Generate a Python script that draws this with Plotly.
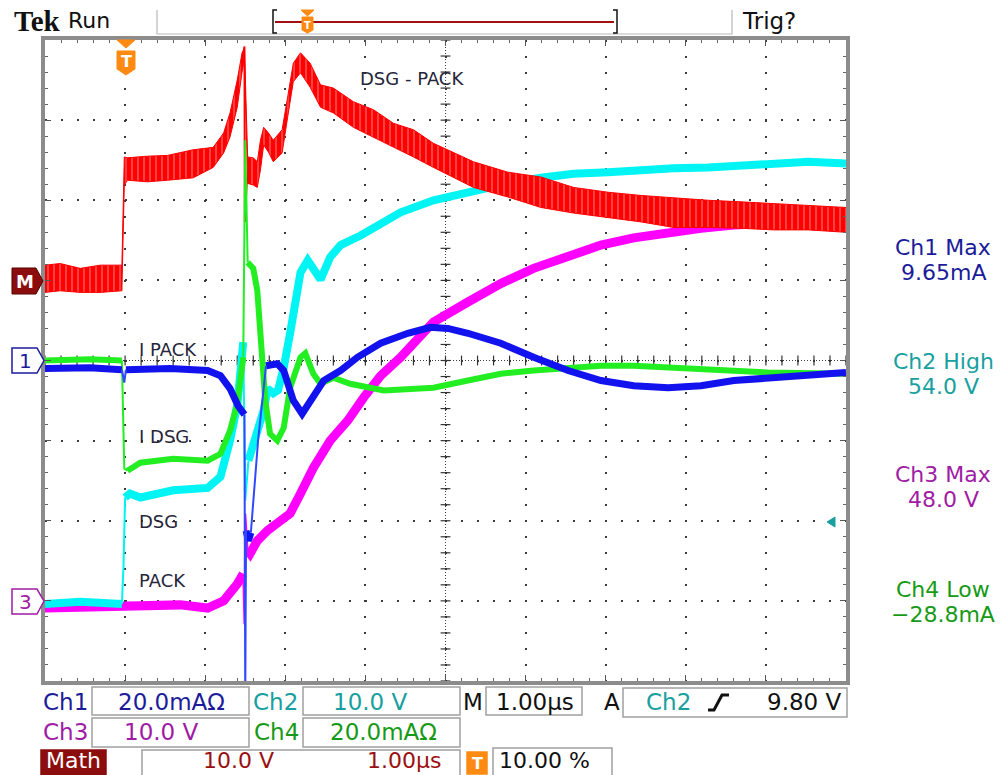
import numpy as np
import plotly.graph_objects as go

# ---------------------------------------------------------------------------
# Acquisition settings
# ---------------------------------------------------------------------------
T_RANGE = [-1.0, 9.0]      # 1.00 us/div, trigger at 10 %
Y_RANGE = [-4.0, 4.0]      # 8 vertical divisions

CH1_SCALE, CH1_POS = 20.0, 0.0     # I PACK, mA/div
CH2_SCALE, CH2_POS = 10.0, -3.0    # DSG, V/div
CH3_SCALE, CH3_POS = 10.0, -3.0    # PACK, V/div
CH4_SCALE, CH4_POS = 20.0, 0.0     # I DSG, mA/div
MATH_SCALE, MATH_POS = 10.0, 1.0   # DSG - PACK, V/div

# ---------------------------------------------------------------------------
# Waveforms (time in us; None breaks a line where a fast edge is drawn thin)
# ---------------------------------------------------------------------------
# Ch2 - DSG (V)
ch2_t = [-1.0, -0.56, -0.04, None, 0.0, 0.06, 0.19, 0.6, 1.03, 1.19, 1.31, 1.4, 1.475, None,
         1.54, 1.65, 1.73, 1.78, 1.85, 1.91, 1.98, 2.06, 2.13, 2.19, 2.28, 2.35, 2.44, 2.56,
         2.69, 2.94, 3.19, 3.44, 3.85, 4.28, 4.78, 5.19, 5.6, 6.03, 6.44, 6.85, 7.28, 7.69,
         8.1, 8.53, 9.0]
ch2_v = [-0.4, -0.1, -0.4, None, 12.9, 13.4, 12.9, 13.8, 14.1, 15.5, 20.0, 24.4, 32.3, None,
         17.5, 20.9, 23.8, 26.5, 25.9, 26.3, 29.1, 33.4, 37.5, 41.0, 42.5, 41.3, 40.1, 42.9,
         44.4, 45.6, 47.1, 48.5, 50.0, 51.0, 52.1, 52.8, 53.3, 53.5, 53.8, 54.0, 54.1, 54.4,
         54.6, 54.8, 54.6]
ch2_edge_t = [-0.04, -0.02, 0.0, None, 1.475, 1.5, 1.54]
ch2_edge_v = [-0.4, 4.4, 12.9, None, 32.3, 12.5, 17.5]

# Ch3 - PACK (V)
ch3_t = [-1.0, -0.44, -0.04, 0.19, 0.69, 1.03, 1.23, 1.4, 1.475, None,
         1.53, 1.56, 1.65, 1.78, 1.94, 2.06, 2.19, 2.35, 2.56, 2.78, 2.98, 3.19, 3.44, 3.85,
         4.28, 4.69, 5.1, 5.53, 5.94, 6.35, 6.78, 7.19, 7.6, 8.03, 8.44, 9.0]
ch3_v = [-0.9, -0.8, -0.9, -0.6, -0.5, -0.9, 0.0, 2.1, 3.4, None,
         6.3, 5.9, 7.5, 8.8, 10.0, 10.9, 13.4, 16.6, 20.0, 22.5, 25.4, 28.1, 30.4, 34.8,
         37.3, 39.6, 41.5, 43.1, 44.4, 45.3, 46.0, 46.5, 46.9, 47.1, 47.4, 47.6]
ch3_edge_t = [1.475, 1.49, 1.5, 1.53]
ch3_edge_v = [3.4, -2.9, 10.9, 6.3]

# Ch4 - I DSG (mA)
ch4_t = [-1.0, -0.44, -0.04, None, 0.03, 0.19, 0.6, 1.03, 1.19, 1.31, 1.4, 1.475, None,
         1.53, 1.6, 1.65, 1.69, 1.71, 1.75, 1.81, 1.9, 1.98, 2.06, 2.19, 2.25, 2.35, 2.44,
         2.6, 2.81, 3.23, 3.85, 4.28, 4.69, 5.1, 5.53, 5.94, 6.35, 6.78, 7.19, 7.6, 8.03, 9.0]
ch4_v = [0.0, 0.3, 0.0, None, -27.5, -25.5, -24.5, -25.0, -23.3, -17.5, -10.8, 0.8, None,
         24.5, 23.0, 17.5, 7.5, 2.5, -10.0, -18.3, -20.0, -16.8, -6.8, 0.8, 1.8, -3.3, -5.8,
         -4.3, -5.8, -7.5, -6.8, -5.0, -3.3, -2.5, -1.8, -1.3, -1.3, -1.8, -2.0, -2.5, -3.0, -3.3]
ch4_edge_t = [-0.04, -0.01, 0.03, None, 1.475, 1.5, 1.53]
ch4_edge_v = [0.0, -27.0, -27.5, None, 0.8, 55.0, 24.5]

# Ch1 - I PACK (mA)
ch1_t = [-1.0, -0.44, -0.04, None, 0.01, 0.56, 1.03, 1.19, 1.31, 1.41, 1.49, None,
         1.51, 1.54, 1.57, None,
         1.76, 1.9, 1.98, 2.1, 2.21, 2.35, 2.48, 2.69, 2.9, 3.19, 3.53, 3.81, 4.03, 4.28,
         4.69, 5.1, 5.53, 5.94, 6.35, 6.78, 7.19, 7.6, 8.03, 8.44, 9.0]
ch1_v = [-2.0, -1.8, -2.3, None, -2.3, -2.0, -2.5, -3.8, -7.0, -11.3, -13.5, None,
         -42.5, -45.0, -43.0, None,
         -1.3, -0.8, -2.5, -10.0, -13.3, -9.3, -5.0, -2.5, 0.8, 4.3, 6.8, 8.3, 8.0, 6.8,
         4.3, 0.8, -2.5, -5.0, -6.3, -6.8, -6.3, -5.0, -4.3, -3.5, -3.0]
ch1_edge_t = [-0.04, -0.01, 0.01, None, 1.49, 1.5, 1.51, None, 1.57, 1.66, 1.76]
ch1_edge_v = [-2.3, -5.5, -2.3, None, -13.5, -85.0, -42.5, None, -43.0, -20.0, -1.3]

# Math - DSG minus PACK (V): upper / lower envelope of the noisy band
math_t = [-1.0, -0.81, -0.56, -0.31, -0.04, -0.01, 0.03, 0.28, 0.53, 0.85, 1.1, 1.23, 1.31,
          1.4, 1.46, 1.49, 1.53, 1.6, 1.65, 1.69, 1.73, 1.79, 1.85, 1.96, 2.03, 2.1, 2.19,
          2.31, 2.44, 2.6, 2.85, 3.1, 3.35, 3.6, 3.85, 4.1, 4.35, 4.78, 5.19, 5.6, 6.03,
          6.44, 6.85, 7.28, 7.69, 8.1, 8.53, 9.0]
math_hi = [1.9, 2.1, 1.5, 1.9, 1.9, 15.4, 15.3, 15.5, 15.6, 16.3, 16.6, 18.4, 20.9, 25.0,
           28.4, 29.0, 15.4, 15.3, 14.8, 17.5, 19.1, 18.4, 17.5, 18.8, 22.9, 27.1, 28.4,
           27.1, 24.4, 24.0, 22.3, 21.3, 19.6, 18.8, 17.1, 16.0, 14.8, 13.5, 12.9, 11.6,
           11.0, 10.6, 10.3, 10.0, 9.8, 9.6, 9.4, 9.1]
math_lo = [-1.5, -1.3, -1.5, -1.5, -1.3, 11.9, 12.5, 12.3, 12.5, 12.8, 14.1, 15.9, 17.9,
           21.6, 26.0, 27.5, 12.1, 11.9, 11.6, 13.8, 16.9, 16.0, 14.8, 15.9, 20.4, 24.8,
           25.9, 24.1, 21.6, 20.9, 19.1, 17.9, 16.6, 15.4, 14.1, 12.9, 11.6, 10.4, 9.1,
           8.4, 7.8, 7.3, 6.6, 6.6, 6.5, 6.3, 6.3, 6.0]
math_edge_t = [1.48, 1.49, 1.495, 1.52]
math_edge_v = [28.5, 29.2, 7.3, 12.5]

# Readouts
measurements = [("Ch1 Max", "9.65mA"), ("Ch2 High", "54.0 V"),
                ("Ch3 Max", "48.0 V"), ("Ch4 Low", "\u221228.8mA")]
trace_labels = ["DSG - PACK", "I PACK", "I DSG", "DSG", "PACK"]

# ---------------------------------------------------------------------------
# Colours
# ---------------------------------------------------------------------------
C_RED, C_CYAN, C_MAG, C_GRN, C_BLU = "#ff0000", "#00f4f4", "#ff00ff", "#22ee22", "#1212ee"
T_CH1, T_CH2, T_CH3, T_CH4, T_MATH = "#1c1c9a", "#18a0a0", "#a01ca4", "#169a16", "#9a1010"
ORANGE = "#ff8a12"
FONT = "DejaVu Sans"

# Plot area in page pixels
L, R, T, B = 45, 846, 40, 681


def to_div(vals, scale, pos):
    return [None if v is None else pos + v / scale for v in vals]


def X(px):
    return (px - L) / (R - L)


def Y(py):
    return (B - py) / (B - T)


fig = go.Figure()

# Centre graticule tick marks
xt = np.round(np.arange(T_RANGE[0], T_RANGE[1] + 1e-6, 0.2), 3)
yt = np.round(np.arange(Y_RANGE[0], Y_RANGE[1] + 1e-6, 0.2), 3)
fig.add_trace(go.Scatter(x=xt, y=np.zeros_like(xt), mode="markers", hoverinfo="skip",
                         marker=dict(symbol="line-ns", size=7, color="#333",
                                     line=dict(width=1.2, color="#333"))))
fig.add_trace(go.Scatter(x=np.full_like(yt, 4.0), y=yt, mode="markers", hoverinfo="skip",
                         marker=dict(symbol="line-ew", size=7, color="#333",
                                     line=dict(width=1.2, color="#333"))))


def add_wave(t, v, scale, pos, color, width):
    fig.add_trace(go.Scatter(x=t, y=to_div(v, scale, pos), mode="lines", hoverinfo="skip",
                             connectgaps=False,
                             line=dict(color=color, width=width, shape="linear")))


add_wave(ch3_t, ch3_v, CH3_SCALE, CH3_POS, C_MAG, 9)
add_wave(ch3_edge_t, ch3_edge_v, CH3_SCALE, CH3_POS, C_MAG, 2)
add_wave(ch2_t, ch2_v, CH2_SCALE, CH2_POS, C_CYAN, 8)
add_wave(ch2_edge_t, ch2_edge_v, CH2_SCALE, CH2_POS, C_CYAN, 2)

# Math band
fig.add_trace(go.Scatter(x=math_t, y=to_div(math_lo, MATH_SCALE, MATH_POS), mode="lines",
                         hoverinfo="skip", line=dict(color=C_RED, width=1)))
fig.add_trace(go.Scatter(x=math_t, y=to_div(math_hi, MATH_SCALE, MATH_POS), mode="lines",
                         hoverinfo="skip", line=dict(color=C_RED, width=1),
                         fill="tonexty", fillcolor=C_RED,
                         fillpattern=dict(shape="|", fgcolor="#ffb4b4", bgcolor=C_RED,
                                          size=6, solidity=0.12, fillmode="replace")))
add_wave(math_edge_t, math_edge_v, MATH_SCALE, MATH_POS, C_RED, 2)

add_wave(ch4_t, ch4_v, CH4_SCALE, CH4_POS, C_GRN, 6)
add_wave(ch4_edge_t, ch4_edge_v, CH4_SCALE, CH4_POS, C_GRN, 2)
add_wave(ch1_t, ch1_v, CH1_SCALE, CH1_POS, C_BLU, 7)
add_wave(ch1_edge_t, ch1_edge_v, CH1_SCALE, CH1_POS, "#3048ff", 2)

# ---------------------------------------------------------------------------
# Axes / graticule
# ---------------------------------------------------------------------------
axis_common = dict(showgrid=True, gridcolor="#3a3a3a", gridwidth=2, griddash="2px,14px",
                   zeroline=False, showline=True, linecolor="#8c8c8c", linewidth=4,
                   mirror="ticks", ticks="inside", ticklen=6, tickwidth=1.2, tickcolor="#555",
                   showticklabels=False, fixedrange=True,
                   minor=dict(ticks="inside", ticklen=3, tickwidth=1, tickcolor="#666",
                              dtick=0.2, showgrid=False))
fig.update_xaxes(range=T_RANGE, dtick=1, tick0=-1, **axis_common)
fig.update_yaxes(range=Y_RANGE, dtick=1, tick0=-4, **axis_common)

shapes = [
    dict(type="line", x0=T_RANGE[0], x1=T_RANGE[1], y0=0, y1=0, layer="between",
         line=dict(color="#3c3c3c", width=1, dash="1px,2px")),
    dict(type="line", x0=4, x1=4, y0=Y_RANGE[0], y1=Y_RANGE[1], layer="between",
         line=dict(color="#3c3c3c", width=1, dash="1px,2px")),
]


def prect(x0, y0, x1, y1, line="#a0a0a0", fill="white", w=1.5):
    return dict(type="rect", xref="paper", yref="paper", x0=X(x0), x1=X(x1),
                y0=Y(y1), y1=Y(y0), line=dict(color=line, width=w), fillcolor=fill,
                layer="above")


def ppath(points, line, fill=None, w=1.5, closed=True):
    d = "M " + " L ".join(f"{X(px):.5f},{Y(py):.5f}" for px, py in points)
    if closed:
        d += " Z"
    return dict(type="path", xref="paper", yref="paper", path=d, layer="above",
                line=dict(color=line, width=w),
                fillcolor=fill if fill else "rgba(0,0,0,0)")


# top status bar
shapes += [
    ppath([(157, 10), (157, 34), (732, 34), (732, 10)], "#b8b8b8", w=1.2, closed=False),
    ppath([(277, 10), (273, 10), (273, 33), (277, 33)], "#111", w=1.5, closed=False),
    ppath([(613, 10), (617, 10), (617, 33), (613, 33)], "#111", w=1.5, closed=False),
    ppath([(275, 22), (614, 22)], "#a01010", w=2, closed=False),
    ppath([(301, 10), (314, 10), (307.5, 16)], ORANGE, ORANGE, w=1),
    ppath([(302, 17), (313, 17), (313, 30), (307.5, 33), (302, 30)], ORANGE, ORANGE, w=1),
]
# trigger position marker in the graticule
shapes += [
    ppath([(117, 40), (135, 40), (126, 48)], ORANGE, ORANGE, w=1),
    ppath([(117, 51), (135, 51), (135, 69), (126, 75), (117, 69)], ORANGE, ORANGE, w=1),
]
# channel ground markers
shapes += [
    ppath([(12, 268), (36, 268), (43, 281), (36, 294), (12, 294)], "#5a0000", "#8c0d0d", w=1),
    ppath([(12, 348), (37, 348), (44, 360.5), (37, 373), (12, 373)], T_CH1, "white", w=1.5),
    ppath([(12, 589), (37, 589), (44, 601), (37, 614), (12, 614)], T_CH3, "white", w=1.5),
    ppath([(827, 522), (835, 517), (835, 527)], T_CH2, T_CH2, w=1),
]
# bottom readout boxes
shapes += [
    prect(92, 687, 249, 715), prect(303, 687, 460, 715), prect(486, 687, 582, 715),
    prect(623, 688, 847, 717), prect(92, 718, 249, 747), prect(303, 718, 460, 747),
    prect(41, 750, 106, 775, line="#8c0d0d", fill="#8c0d0d"),
    prect(142, 750, 460, 776), prect(493, 748, 612, 776),
    prect(467, 752, 487, 774, line=ORANGE, fill=ORANGE),
    ppath([(708, 710), (714, 710), (722, 695), (729, 695)], "#111", w=3, closed=False),
]

annotations = []


def ptext(text, x, y, size, color, anchor="center", family=FONT, vanchor="middle"):
    annotations.append(dict(text=text, x=X(x), y=Y(y), xref="paper", yref="paper",
                            xanchor=anchor, yanchor=vanchor, showarrow=False,
                            font=dict(family=family, size=size, color=color)))


def dtext(text, t, d, size=18, color="#26263a"):
    annotations.append(dict(text=text, x=t, y=d, xref="x", yref="y", xanchor="left",
                            yanchor="middle", showarrow=False,
                            font=dict(family=FONT, size=size, color=color)))


# top bar text
ptext("<b>Tek</b>", 12, 21, 29, "#111", "left", "Liberation Serif")
ptext("Run", 66, 21, 22, "#111", "left")
ptext("Trig?", 740, 21, 23, "#111", "left")
ptext("<b>T</b>", 307.5, 25, 10, "white")
ptext("<b>T</b>", 126, 61, 16, "white")

# ground marker labels
ptext("<b>M</b>", 25, 281, 18, "white")
ptext("1", 25, 361, 20, T_CH1)
ptext("3", 25, 602, 20, T_CH3)

# trace labels on screen
dtext(trace_labels[0], 2.91, 3.525)
dtext(trace_labels[1], 0.15, 0.14)
dtext(trace_labels[2], 0.15, -0.95)
dtext(trace_labels[3], 0.15, -2.01)
dtext(trace_labels[4], 0.15, -2.75)

# measurement readouts on the right
for (name, value), color, yc in zip(measurements, [T_CH1, T_CH2, T_CH3, T_CH4],
                                    [247, 361, 474, 589]):
    ptext(name, 943, yc, 22, color)
    ptext(value, 943, yc + 25, 22, color)

# bottom readouts
ptext("Ch1", 41, 702, 23, T_CH1, "left")
ptext("20.0mA\u03a9", 171, 702, 23, T_CH1)
ptext("Ch2", 251, 702, 23, T_CH2, "left")
ptext("10.0 V", 370, 702, 23, T_CH2)
ptext("M", 473, 702, 23, "#111")
ptext("1.00\u00b5s", 535, 702, 23, "#111")
ptext("A", 612, 702, 23, "#111")
ptext("Ch2", 668, 702, 23, T_CH2)
ptext("9.80 V", 844, 702, 23, "#111", "right")
ptext("Ch3", 41, 732, 23, T_CH3, "left")
ptext("10.0 V", 161, 732, 23, T_CH3)
ptext("Ch4", 252, 732, 23, T_CH4, "left")
ptext("20.0mA\u03a9", 383, 732, 23, T_CH4)
ptext("Math", 73, 775, 22, "white", vanchor="bottom")
ptext("10.0 V", 238, 775, 22, T_MATH, vanchor="bottom")
ptext("1.00\u00b5s", 404, 775, 22, T_MATH, vanchor="bottom")
ptext("<b>T</b>", 477, 763, 16, "white")
ptext("10.00 %", 497, 775, 22, "#111", "left", vanchor="bottom")

fig.update_layout(width=1007, height=775, margin=dict(l=L, r=1007 - R, t=T, b=775 - B, pad=0),
                  paper_bgcolor="white", plot_bgcolor="white", showlegend=False,
                  hovermode=False, shapes=shapes, annotations=annotations)

fig.write_html("out.html", config={"displayModeBar": False})
